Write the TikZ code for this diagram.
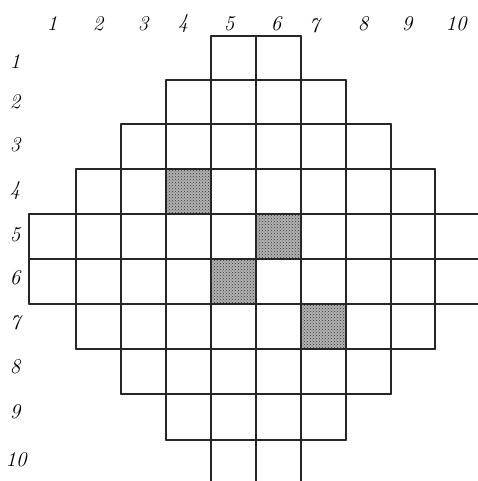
\documentclass[tikz,border=0pt]{standalone}
\usetikzlibrary{patterns}
\begin{document}
\begin{tikzpicture}[x=1pt,y=-1pt,
  gridline/.style={line width=1.6pt, line cap=round, black!85},
  shade/.style={fill=gray!60},
  stipple/.style={pattern=crosshatch dots, pattern color=black!80},
  lbl/.style={font=\itshape\fontsize{21}{21}\selectfont, inner sep=0pt}]
\useasboundingbox (0,0) rectangle (478,481);
% shaded cells
\foreach \a/\b in {166/169, 256/214, 211/259, 301/304} {
  \fill[shade] (\a,\b) rectangle ++(45,45);
  \fill[stipple] (\a,\b) rectangle ++(45,45);
}
% horizontal lines
\draw[gridline] (211,36) -- (301,36);
\draw[gridline] (166,80) -- (346,80);
\draw[gridline] (121,124) -- (391,124);
\draw[gridline] (76,169) -- (435,169);
\draw[gridline] (29,214) -- (478,214);
\draw[gridline] (29,259) -- (478,259);
\draw[gridline] (29,304) -- (478,304);
\draw[gridline] (76,349) -- (435,349);
\draw[gridline] (121,394) -- (391,394);
\draw[gridline] (166,440) -- (346,440);
% vertical lines
\draw[gridline] (29,214) -- (29,304);
\draw[gridline] (76,169) -- (76,349);
\draw[gridline] (121,124) -- (121,394);
\draw[gridline] (166,80) -- (166,440);
\draw[gridline] (211,36) -- (211,481);
\draw[gridline] (256,36) -- (256,481);
\draw[gridline] (301,36) -- (301,481);
\draw[gridline] (346,80) -- (346,440);
\draw[gridline] (391,124) -- (391,394);
\draw[gridline] (435,169) -- (435,349);
% column labels
\node[lbl] (c1) at (52,24) {1};
\node[lbl] (c2) at (98,24) {2};
\node[lbl] (c3) at (143,24) {3};
\node[lbl] (c4) at (183,24) {4};
\node[lbl] (c5) at (229,24) {5};
\node[lbl] (c6) at (276,24) {6};
\node[lbl] (c7) at (314,26) {7};
\node[lbl] (c8) at (363,24) {8};
\node[lbl] (c9) at (407,24) {9};
\node[lbl] (c10) at (456,24) {10};
% row labels
\node[lbl] (r1) at (15,62) {1};
\node[lbl] (r2) at (15,102) {2};
\node[lbl] (r3) at (15,145) {3};
\node[lbl] (r4) at (15,191) {4};
\node[lbl] (r5) at (15,235) {5};
\node[lbl] (r6) at (15,278) {6};
\node[lbl] (r7) at (15,323) {7};
\node[lbl] (r8) at (15,367) {8};
\node[lbl] (r9) at (15,412) {9};
\node[lbl] (r10) at (16,460) {10};
\end{tikzpicture}
\end{document}
